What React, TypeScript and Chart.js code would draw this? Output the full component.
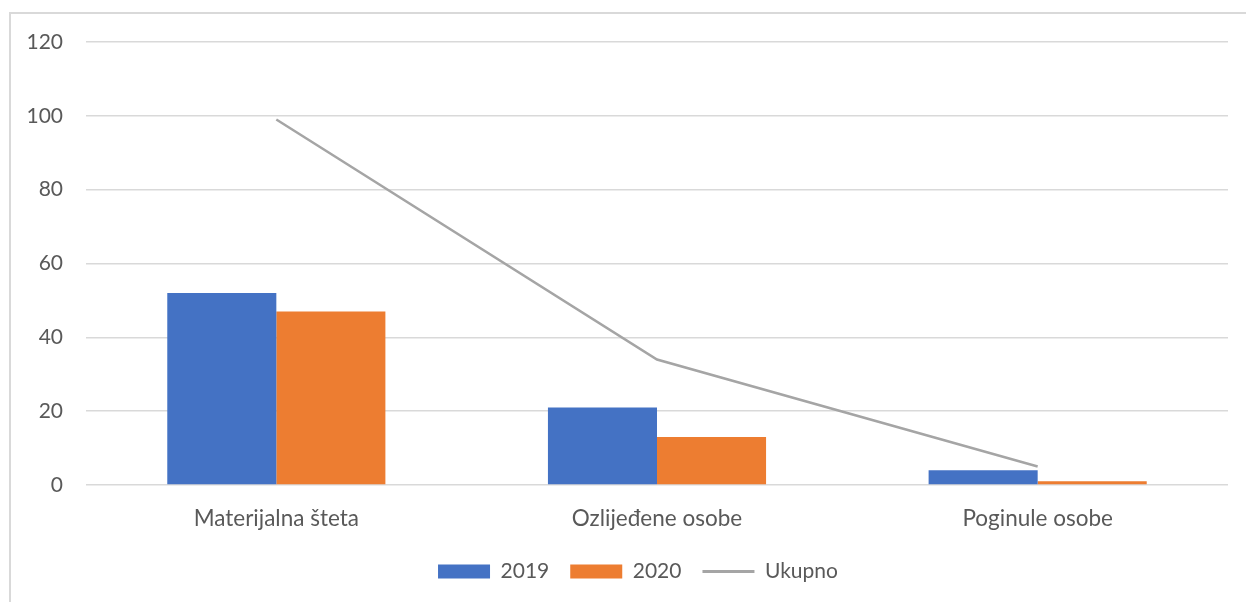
import React, { useEffect, useRef } from "react";
import { Chart, registerables } from "chart.js";

Chart.register(...registerables);

const categories = ["Materijalna šteta", "Ozlijeđene osobe", "Poginule osobe"];
const values2019 = [52, 21, 4];
const values2020 = [47, 13, 1];
const valuesUkupno = [99, 34, 5];
const seriesLabels = ["2019", "2020", "Ukupno"];
const yMin = 0;
const yMax = 120;
const yStep = 20;

const TEXT = "#595959";
const FONT = "Lato";

const legendShift = {
  id: "legendShift",
  afterLayout(chart: any) {
    const lg = chart.legend;
    if (lg) {
      lg.left += 24;
      lg.right += 24;
    }
  },
};

export default function App() {
  const ref = useRef<HTMLCanvasElement>(null);

  useEffect(() => {
    if (!ref.current) return;
    const chart = new Chart(ref.current, {
      type: "bar",
      data: {
        labels: categories,
        datasets: [
          {
            type: "bar",
            label: seriesLabels[0],
            data: values2019,
            backgroundColor: "#4472C4",
            borderWidth: 0,
            order: 1,
          },
          {
            type: "bar",
            label: seriesLabels[1],
            data: values2020,
            backgroundColor: "#ED7D31",
            borderWidth: 0,
            order: 1,
          },
          {
            type: "line",
            label: seriesLabels[2],
            data: valuesUkupno,
            borderColor: "#A5A5A5",
            backgroundColor: "#A5A5A5",
            borderWidth: 2.5,
            pointRadius: 0,
            tension: 0,
            order: 0,
          } as any,
        ],
      },
      plugins: [legendShift],
      options: {
        responsive: false,
        animation: false,
        devicePixelRatio: 1,
        layout: { padding: { left: 0, right: 18, top: 42, bottom: 10 } },
        datasets: {
          bar: { categoryPercentage: 0.573, barPercentage: 1 },
        },
        scales: {
          x: {
            type: "category",
            offset: true,
            grid: { display: false, drawTicks: false },
            border: { display: false },
            ticks: {
              color: TEXT,
              font: { family: FONT, size: 22.5 },
              padding: 20,
              maxRotation: 0,
            },
            afterFit: (s: any) => {
              s.height = 55;
            },
          },
          y: {
            min: yMin,
            max: yMax,
            ticks: {
              stepSize: yStep,
              color: TEXT,
              font: { family: FONT, size: 21 },
              padding: 23,
            },
            grid: { color: "#D9D9D9", lineWidth: 1.5, drawTicks: false },
            border: { display: false },
            afterFit: (s: any) => {
              s.width = 86;
            },
          },
        },
        plugins: {
          tooltip: { enabled: false },
          legend: {
            position: "bottom",
            labels: {
              usePointStyle: true,
              pointStyleWidth: 52,
              boxHeight: 14,
              padding: 21,
              color: TEXT,
              font: { family: FONT, size: 21 },
              sort: (a: any, b: any) => a.datasetIndex - b.datasetIndex,
              generateLabels: (c: any) => {
                const items = (Chart.defaults.plugins.legend.labels as any).generateLabels(c);
                return items.map((it: any) =>
                  it.datasetIndex === 2
                    ? { ...it, pointStyle: "line", lineWidth: 3, strokeStyle: "#A5A5A5" }
                    : { ...it, pointStyle: "rect", lineWidth: 0 }
                );
              },
            },
          },
        },
      },
    });
    return () => chart.destroy();
  }, []);

  return (
    <div style={{ position: "fixed", left: 0, top: 0, width: 1246, height: 602, overflow: "hidden", background: "#fff" }}>
      <div
        style={{
          position: "absolute",
          left: 9,
          top: 12,
          width: 1400,
          height: 800,
          borderLeft: "2px solid #D9D9D9",
          borderTop: "2px solid #D9D9D9",
        }}
      />
      <canvas ref={ref} width={1246} height={602} style={{ position: "absolute", left: 0, top: 0, display: "block" }} />
    </div>
  );
}
